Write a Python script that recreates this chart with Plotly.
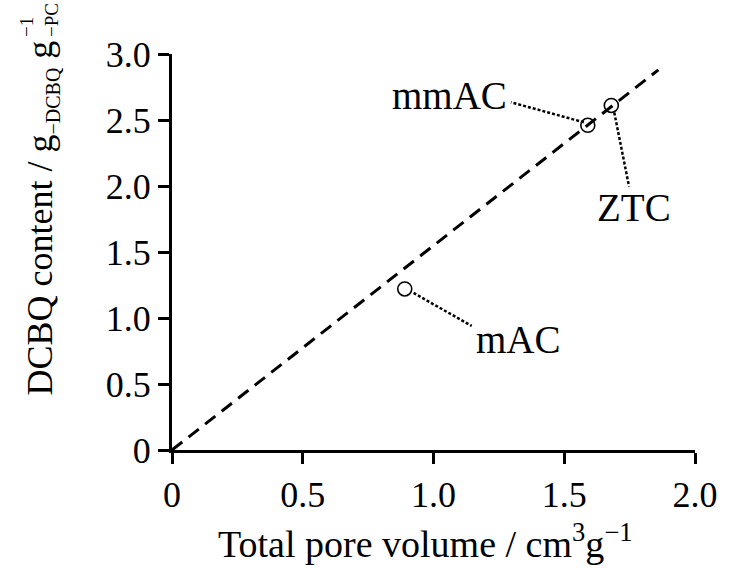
import plotly.graph_objects as go

# ---- data ----
samples = ["mAC", "mmAC", "ZTC"]
pore_volume = [0.89, 1.59, 1.68]          # cm3 g-1
dcbq_content = [1.22, 2.46, 2.61]         # g_DCBQ g_PC-1
fit_x = [0.0, 1.86]
fit_y = [0.0, 2.88]
x_tick_vals = [0, 0.5, 1.0, 1.5, 2.0]
x_tick_text = ["0", "0.5", "1.0", "1.5", "2.0"]
y_tick_vals = [0, 0.5, 1.0, 1.5, 2.0, 2.5, 3.0]
y_tick_text = ["0", "0.5", "1.0", "1.5", "2.0", "2.5", "3.0"]

# ---- layout geometry ----
W, H = 730, 568
ML, MR, MT, MB = 172, 27, 54, 118
XR = [0, 2.0]
YR = [0, 3.0]
pw = W - ML - MR
ph = H - MT - MB
sx = pw / (XR[1] - XR[0])
sy = ph / (YR[1] - YR[0])

SERIF = "Liberation Serif"

fig = go.Figure()
fig.add_trace(go.Scatter(x=fit_x, y=fit_y, mode="lines", cliponaxis=False,
                         line=dict(color="black", width=3, dash="13px,8px"),
                         hoverinfo="skip", showlegend=False))
fig.add_trace(go.Scatter(x=pore_volume, y=dcbq_content, mode="markers", cliponaxis=False,
                         marker=dict(symbol="circle-open", size=14, color="black",
                                     line=dict(width=1.6, color="black")),
                         text=samples, showlegend=False))

# leaders and labels: pixel offsets from the point (dx right, dy down)
label_style = {
    "mAC":  dict(l0=(9, 4),   l1=(68, 37),   t=(70, 51),   xa="left"),
    "mmAC": dict(l0=(-4, -3), l1=(-78, -23), t=(-80, -30), xa="right"),
    "ZTC":  dict(l0=(3, 7),   l1=(18, 81),   t=(23, 102),  xa="center"),
}
shapes = []
annotations = []
for name, px, py in zip(samples, pore_volume, dcbq_content):
    st = label_style[name]
    x0 = px + st["l0"][0] / sx
    y0 = py - st["l0"][1] / sy
    x1 = px + st["l1"][0] / sx
    y1 = py - st["l1"][1] / sy
    shapes.append(dict(type="line", xref="x", yref="y", x0=x0, y0=y0, x1=x1, y1=y1,
                       line=dict(color="black", width=2.5, dash="3px,2px"), layer="above"))
    annotations.append(dict(x=px + st["t"][0] / sx, y=py - st["t"][1] / sy, xref="x", yref="y",
                            text=name, showarrow=False, xanchor=st["xa"], yanchor="middle",
                            font=dict(family=SERIF, size=39, color="black")))

def paper_x(p):
    return (p - ML) / pw

def paper_y(p):
    return (H - MB - p) / ph

# x-axis title
annotations.append(dict(
    x=paper_x(429), y=paper_y(541), xref="paper", yref="paper", showarrow=False,
    xanchor="center", yanchor="middle",
    text="Total pore volume / cm<sup>3</sup>g<sup>−1</sup>",
    font=dict(family=SERIF, size=38, color="black")))

# y-axis title (main part)
annotations.append(dict(
    x=paper_x(40), y=paper_y(397), xref="paper", yref="paper", showarrow=False,
    xanchor="center", yanchor="bottom", textangle=-90,
    text=("DCBQ content / g"
          "<sub><span style='font-size:20px'>−DCBQ</span></sub> g"),
    font=dict(family=SERIF, size=36, color="black")))
# stacked super/subscript
annotations.append(dict(
    x=paper_x(37), y=paper_y(1), xref="paper", yref="paper", showarrow=False,
    xanchor="center", yanchor="top", textangle=-90, align="left",
    text="−1<br>−PC",
    font=dict(family=SERIF, size=19, color="black")))

axis_common = dict(showline=True, linecolor="black", linewidth=3, ticks="outside",
                   ticklen=11, tickwidth=3, tickcolor="black", showgrid=False,
                   zeroline=False, tickfont=dict(family=SERIF, size=36, color="black"))

fig.update_layout(
    width=W, height=H,
    margin=dict(l=ML, r=MR, t=MT, b=MB),
    paper_bgcolor="white", plot_bgcolor="white",
    xaxis=dict(range=XR, tickvals=x_tick_vals, ticktext=x_tick_text, **axis_common),
    yaxis=dict(range=YR, tickvals=y_tick_vals, ticktext=y_tick_text, **axis_common),
    shapes=shapes, annotations=annotations, showlegend=False,
)
fig.write_html("out.html")
